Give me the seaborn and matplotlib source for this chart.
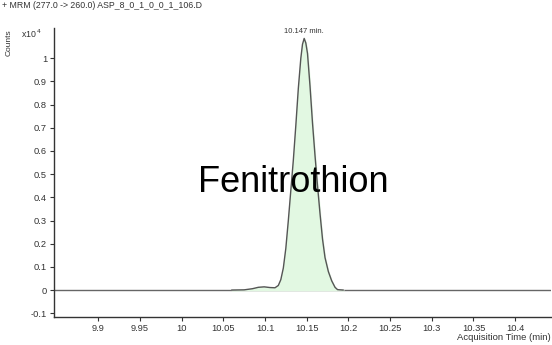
import matplotlib
matplotlib.use("Agg")
import matplotlib.pyplot as plt
import seaborn as sns
import pandas as pd

# Data (intensity in x10^4 counts)
time_min = [10.060, 10.075, 10.085, 10.092, 10.099, 10.106, 10.112, 10.116,
            10.119, 10.122, 10.125, 10.128, 10.131, 10.134, 10.137, 10.140,
            10.143, 10.145, 10.147, 10.149, 10.151, 10.154, 10.157, 10.160,
            10.163, 10.166, 10.169, 10.172, 10.176, 10.180, 10.184, 10.187,
            10.194]
counts_e4 = [0.000, 0.001, 0.006, 0.012, 0.014, 0.011, 0.010, 0.020,
             0.045, 0.095, 0.180, 0.300, 0.430, 0.560, 0.710, 0.870,
             1.000, 1.060, 1.085, 1.065, 1.020, 0.880, 0.720, 0.580,
             0.450, 0.330, 0.220, 0.140, 0.080, 0.040, 0.012, 0.002,
             0.000]
xticks = [9.9, 9.95, 10, 10.05, 10.1, 10.15, 10.2, 10.25, 10.3, 10.35, 10.4]
xtick_labels = ["9.9", "9.95", "10", "10.05", "10.1", "10.15", "10.2", "10.25", "10.3", "10.35", "10.4"]
yticks = [-0.1, 0, 0.1, 0.2, 0.3, 0.4, 0.5, 0.6, 0.7, 0.8, 0.9, 1]
ytick_labels = ["-0.1", "0", "0.1", "0.2", "0.3", "0.4", "0.5", "0.6", "0.7", "0.8", "0.9", "1"]
peak_time = 10.147
peak_height = 1.085
title = "+ MRM (277.0 -> 260.0) ASP_8_0_1_0_0_1_106.D"
compound = "Fenitrothion"

df = pd.DataFrame({"t": time_min, "c": counts_e4})

sns.set_style("ticks")
plt.rcParams['font.family'] = ['Liberation Sans', 'DejaVu Sans']

W, H = 552, 345
fig = plt.figure(figsize=(W / 100, H / 100), dpi=100)
ax = fig.add_axes([54 / W, 1 - 317 / H, (551 - 54) / W, (317 - 28) / H])

ax.axhline(0, color="#666666", lw=1.0, zorder=1)
ax.fill_between(df["t"], df["c"], 0, color="#e2f8e2", zorder=2)
sns.lineplot(data=df, x="t", y="c", ax=ax, color="#555555", lw=1.0, zorder=3)

ax.set_xlim(9.847, 10.443)
ax.set_ylim(-0.116, 1.13)
ax.set_xticks(xticks)
ax.set_xticklabels(xtick_labels)
ax.set_yticks(yticks)
ax.set_yticklabels(ytick_labels)
ax.tick_params(axis="both", labelsize=6.7, colors="#333333", length=3, width=0.8, pad=2)
ax.set_xlabel("")
ax.set_ylabel("")
for s in ["top", "right"]:
    ax.spines[s].set_visible(False)
for s in ["left", "bottom"]:
    ax.spines[s].set_color("#333333")
    ax.spines[s].set_linewidth(1.0)

ax.text(peak_time, peak_height + 0.015, f"{peak_time} min.", ha="center", va="bottom",
        fontsize=5.5, color="#333333")

fig.text(2 / W, 1 - 6 / H, title, ha="left", va="center", fontsize=6.3, color="#333333")
fig.text(9 / W, 1 - 43 / H, "Counts", rotation=90, ha="center", va="center",
         fontsize=6, color="#333333")
fig.text(21 / W, 1 - 34 / H, r"x10$^{\,4}$", ha="left", va="center", fontsize=6.3, color="#333333")
fig.text(551 / W, 1 - 338 / H, "Acquisition Time (min)", ha="right", va="center",
         fontsize=6.8, color="#333333")
fig.text(293 / W, 1 - 182 / H, compound, ha="center", va="center", fontsize=26, color="black")

fig.savefig("out.png", dpi=100)
